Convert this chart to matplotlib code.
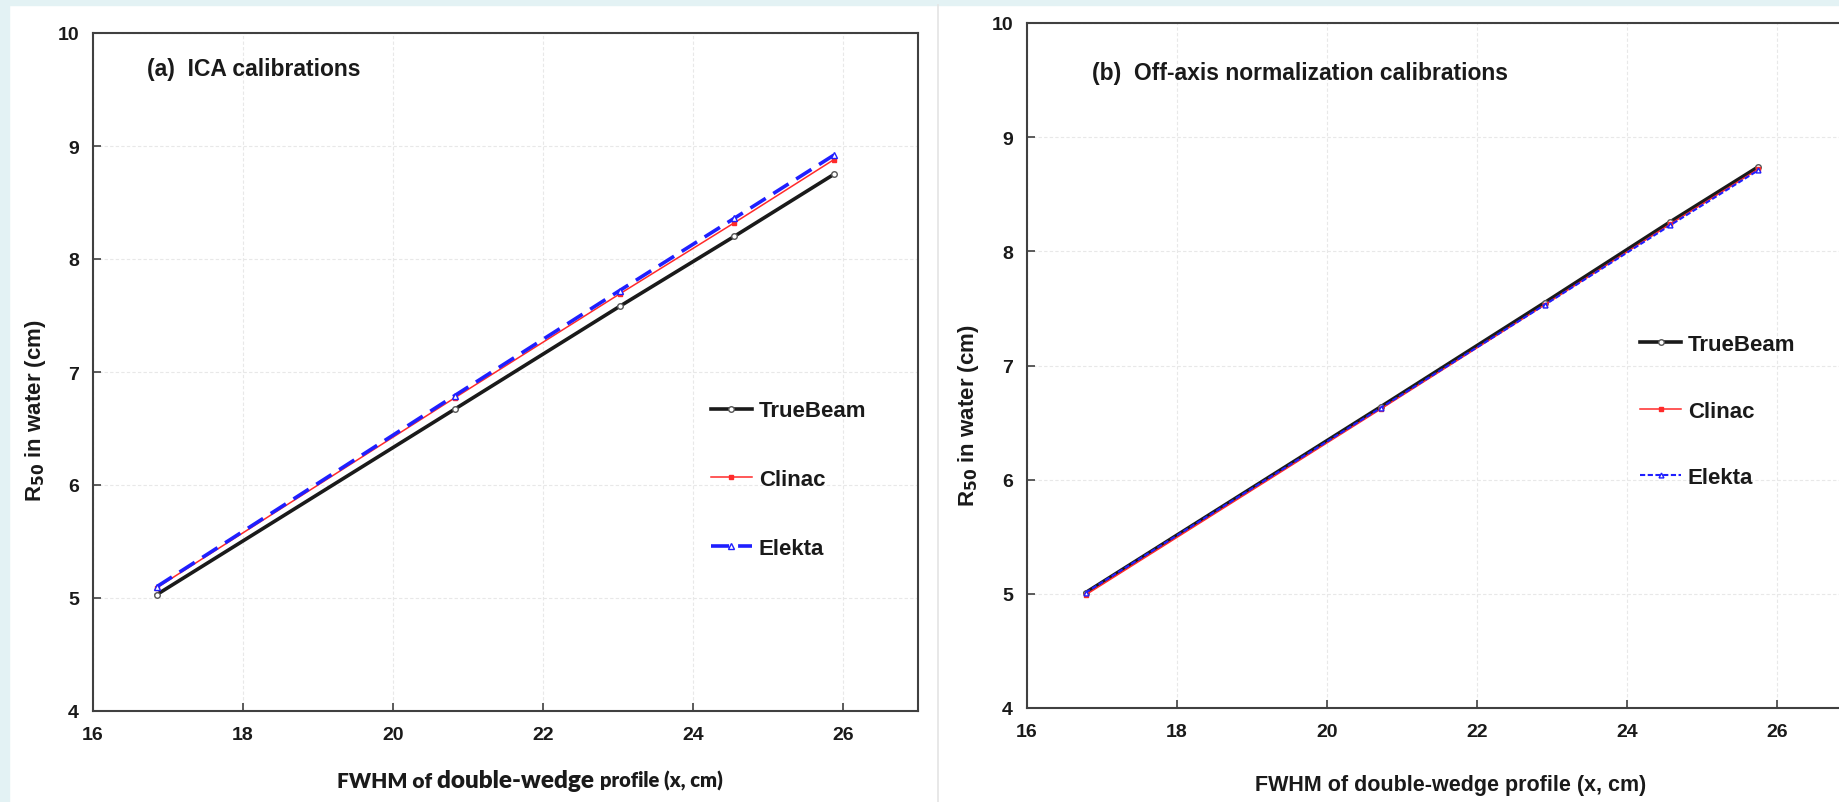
import matplotlib
matplotlib.use("Agg")
import matplotlib.pyplot as plt
from matplotlib.patches import Rectangle
from matplotlib.lines import Line2D

# ==== dados ====
machines = ["TrueBeam", "Clinac", "Elekta"]

# (a) ICA calibrations
ica_x = [16.85, 20.82, 23.02, 24.55, 25.88]
ica_truebeam = [5.03, 6.67, 7.58, 8.20, 8.75]
ica_clinac = [5.09, 6.77, 7.69, 8.32, 8.88]
ica_elekta = [5.10, 6.79, 7.72, 8.36, 8.92]

# (b) Off-axis normalization calibrations
oan_x = [16.78, 20.72, 22.90, 24.58, 25.75]
oan_truebeam = [5.01, 6.64, 7.55, 8.26, 8.74]
oan_clinac = [4.99, 6.62, 7.53, 8.24, 8.72]
oan_elekta = [5.01, 6.63, 7.53, 8.23, 8.71]

x_ticks = [16, 18, 20, 22, 24, 26]
y_ticks = [4, 5, 6, 7, 8, 9, 10]
# ================================

FONT = "Liberation Sans"
TXT = "#1a1a1a"


def style_axis(ax):
    ax.set_xlim(16, 27)
    ax.set_ylim(4, 10)
    ax.set_xticks(x_ticks)
    ax.set_yticks(y_ticks)
    ax.grid(True, color="#e8e8e8", linestyle=(0, (3, 2)), linewidth=0.8)
    ax.set_axisbelow(True)
    for s in ax.spines.values():
        s.set_color("#404040")
        s.set_linewidth(1.5)
    ax.tick_params(direction="in", length=6, width=1.2, color="#404040",
                   labelsize=14, labelcolor=TXT)
    ax.tick_params(axis="y", pad=10)
    ax.tick_params(axis="x", pad=11)
    for lab in ax.get_xticklabels() + ax.get_yticklabels():
        lab.set_fontweight("bold")
        lab.set_family(FONT)


fig = plt.figure(figsize=(18.39, 8.03), dpi=100)
fig.patch.set_facecolor("white")

# faixas claras do slide e separador
fig.add_artist(Rectangle((0, 0), 9 / 1839, 1, transform=fig.transFigure,
                         color="#e3f2f4", zorder=0))
fig.add_artist(Rectangle((0, 1 - 6 / 803), 1, 6 / 803, transform=fig.transFigure,
                         color="#e3f2f4", zorder=0))
fig.add_artist(Line2D([938.5 / 1839] * 2, [0, 1 - 6 / 803], transform=fig.transFigure,
                      color="#e4e4e4", linewidth=1.2, zorder=0))

ax1 = fig.add_axes([93 / 1839, 1 - 712 / 803, 825 / 1839, 678 / 803])
ax2 = fig.add_axes([1027 / 1839, 1 - 709 / 803, 825 / 1839, 685 / 803])

# painel (a)
ax1.plot(ica_x, ica_truebeam, color="#1a1a1a", lw=2.6, marker="o", ms=4,
         mfc="white", mec="#555555", label=machines[0], zorder=3)
ax1.plot(ica_x, ica_clinac, color="#ff2a2a", lw=1.1, marker="s", ms=3,
         mfc="#ff2a2a", mec="#ff2a2a", label=machines[1], zorder=4)
ax1.plot(ica_x, ica_elekta, color="#1f1fff", lw=2.6, dashes=(5, 2.5), marker="^",
         ms=4, mfc="white", mec="#1f1fff", label=machines[2], zorder=5)

# painel (b)
ax2.plot(oan_x, oan_truebeam, color="#1a1a1a", lw=2.6, marker="o", ms=4,
         mfc="white", mec="#555555", label=machines[0], zorder=3)
ax2.plot(oan_x, oan_clinac, color="#ff2a2a", lw=1.1, marker="s", ms=3,
         mfc="#ff2a2a", mec="#ff2a2a", label=machines[1], zorder=4)
ax2.plot(oan_x, oan_elekta, color="#1f1fff", lw=1.5, dashes=(2.5, 1.2), marker="^",
         ms=3.5, mfc="white", mec="#1f1fff", label=machines[2], zorder=5)

for ax in (ax1, ax2):
    style_axis(ax)

ax1.text(0.065, 0.947, "(a)  ICA calibrations", transform=ax1.transAxes,
         fontsize=16.5, fontweight="bold", family=FONT, color=TXT, va="center")
ax2.text(0.079, 0.928, "(b)  Off-axis normalization calibrations", transform=ax2.transAxes,
         fontsize=16.5, fontweight="bold", family=FONT, color=TXT, va="center")

for ax, lx, ly in ((ax1, -0.055, 0.445), (ax2, -0.056, 0.429)):
    ax.set_ylabel(r"R$_{\mathbf{50}}$ in water (cm)", fontsize=16, fontweight="bold",
                  family=FONT, color=TXT)
    ax.yaxis.set_label_coords(lx, ly)

# rótulo x do painel (a): tamanhos misturados, como no original
base_y = 1 - 788 / 803
t1 = fig.text(337 / 1839, base_y, "FWHM of ", fontsize=15, fontweight="heavy",
              family="Lato", color=TXT, va="baseline")
t2 = ax1.annotate("double-wedge ", xy=(1, base_y), xycoords=(t1, "figure fraction"),
                  fontsize=17.5, fontweight="heavy", family="Lato", color=TXT,
                  va="baseline", ha="left")
t3 = ax1.annotate("profile (x, cm)", xy=(1, base_y), xycoords=(t2, "figure fraction"),
                  fontsize=14.5, fontweight="heavy", family="Lato", color=TXT,
                  va="baseline", ha="left")

ax2.set_xlabel("FWHM of double-wedge profile (x, cm)", fontsize=15.5, fontweight="bold",
               family=FONT, color=TXT)
ax2.xaxis.set_label_coords(0.514, -0.097)

for ax, ax_x, ax_y, sp in ((ax1, 0.749, 0.458, 2.15), (ax2, 0.743, 0.546, 2.05)):
    leg = ax.legend(loc="upper left", bbox_to_anchor=(ax_x, ax_y), frameon=False,
                    handlelength=1.85, handletextpad=0.3, labelspacing=sp,
                    borderpad=0, borderaxespad=0, numpoints=1,
                    prop={"family": FONT, "weight": "bold", "size": 16})
    for t in leg.get_texts():
        t.set_color(TXT)

fig.savefig("out.png", dpi=100)
